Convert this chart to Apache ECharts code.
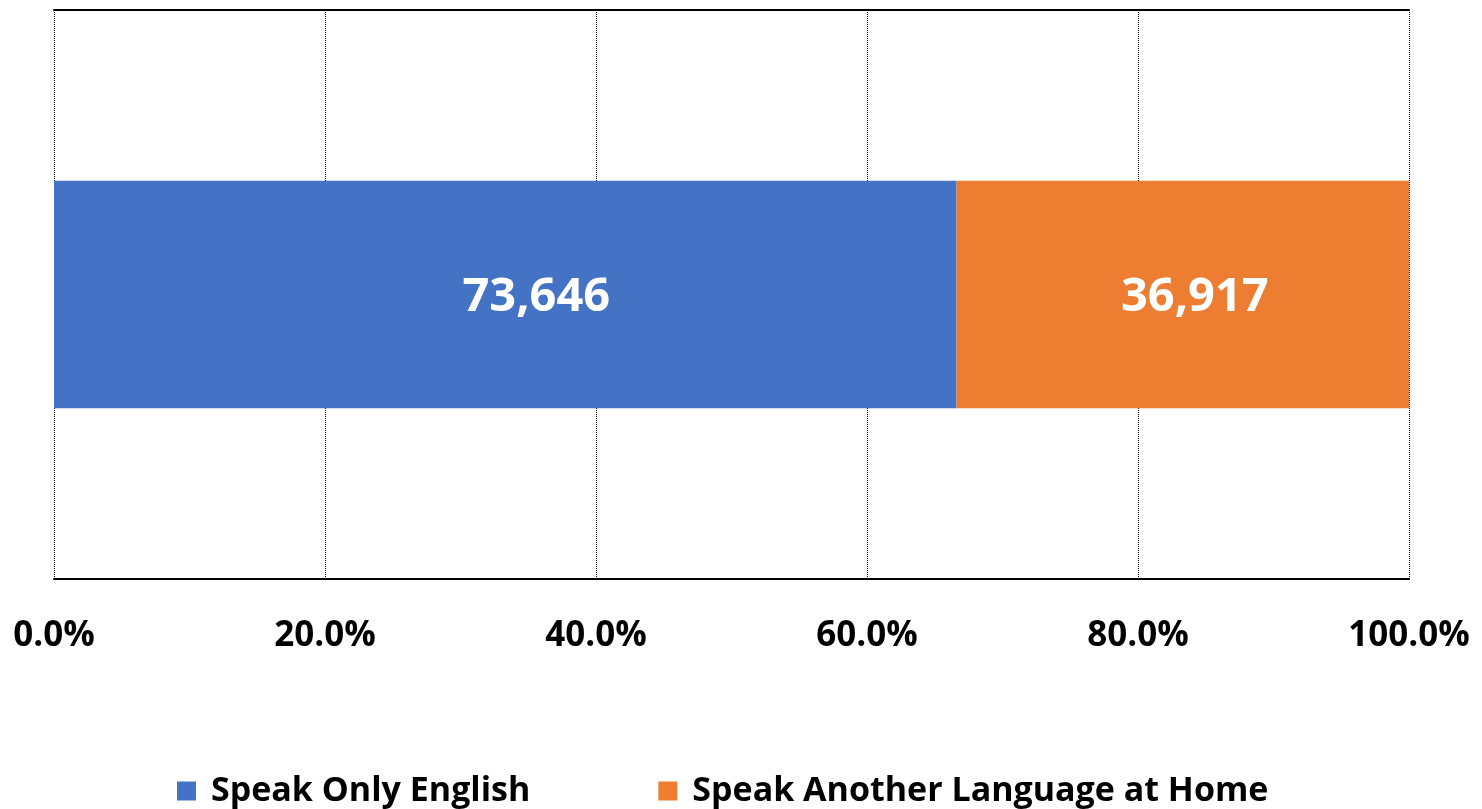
<!DOCTYPE html>
<html>
<head>
<meta charset="utf-8">
<script src="https://cdn.jsdelivr.net/npm/echarts@6/dist/echarts.min.js"></script>
<style>
  html, body { margin: 0; padding: 0; background: #fff; }
  #main { width: 1482px; height: 809px; }
</style>
</head>
<body>
<div id="main"></div>
<script>
// data
var categories = [''];
var seriesNames = ['Speak Only English', 'Speak Another Language at Home'];
var englishOnly = [73646];
var otherLanguage = [36917];
var tickLabels = ['0.0%', '20.0%', '40.0%', '60.0%', '80.0%', '100.0%'];

var colors = ['#4472C4', '#ED7D31'];
var fontFamily = '"Open Sans", sans-serif';

// share of each group in percent, for the 100% stacked bar
var totals = englishOnly.map(function (v, i) { return v + otherLanguage[i]; });
function share(arr) {
    return arr.map(function (v, i) { return { value: v / totals[i] * 100, raw: v }; });
}

// labels in the source sit a little right of the segment centre
function valueLabel(dx) {
    return {
        show: true,
        position: 'inside',
        offset: [dx, 3],
        color: '#fff',
        fontFamily: fontFamily,
        fontWeight: 'bold',
        fontSize: 47,
        formatter: function (p) { return p.data.raw.toLocaleString('en-US'); }
    };
}

var chart = echarts.init(document.getElementById('main'));

var option = {
    animation: false,
    color: colors,
    grid: {
        left: 54,
        right: 73,
        top: 10,
        bottom: 230
    },
    legend: {
        bottom: -4,
        left: 172,
        itemWidth: 19,
        itemHeight: 19,
        itemGap: 128,
        icon: 'rect',
        textStyle: {
            fontFamily: fontFamily,
            fontWeight: 'bold',
            fontSize: 34,
            color: '#000',
            padding: [0, 0, 0, 10]
        },
        data: seriesNames
    },
    xAxis: [{
        type: 'value',
        min: 0,
        max: 100,
        interval: 20,
        axisLine: { show: true, lineStyle: { color: '#000', width: 2 } },
        axisTick: { show: false },
        splitLine: { show: true, lineStyle: { color: '#000', type: 'dotted', width: 1 } },
        axisLabel: {
            margin: 40,
            fontFamily: fontFamily,
            fontWeight: 'bold',
            fontSize: 35,
            color: '#000',
            formatter: function (v) { return tickLabels[Math.round(v / 20)]; }
        }
    }, {
        // solid top border of the plot area
        type: 'value',
        position: 'top',
        min: 0,
        max: 100,
        axisLine: { show: true, lineStyle: { color: '#000', width: 2 } },
        axisTick: { show: false },
        axisLabel: { show: false },
        splitLine: { show: false }
    }],
    yAxis: {
        type: 'category',
        data: categories,
        axisLine: { show: false },
        axisTick: { show: false },
        axisLabel: { show: false }
    },
    series: [{
        name: seriesNames[0],
        type: 'bar',
        stack: 'total',
        barWidth: '40%',
        data: share(englishOnly),
        label: valueLabel(31)
    }, {
        name: seriesNames[1],
        type: 'bar',
        stack: 'total',
        barWidth: '40%',
        data: share(otherLanguage),
        label: valueLabel(12)
    }]
};

chart.setOption(option);
</script>
</body>
</html>
